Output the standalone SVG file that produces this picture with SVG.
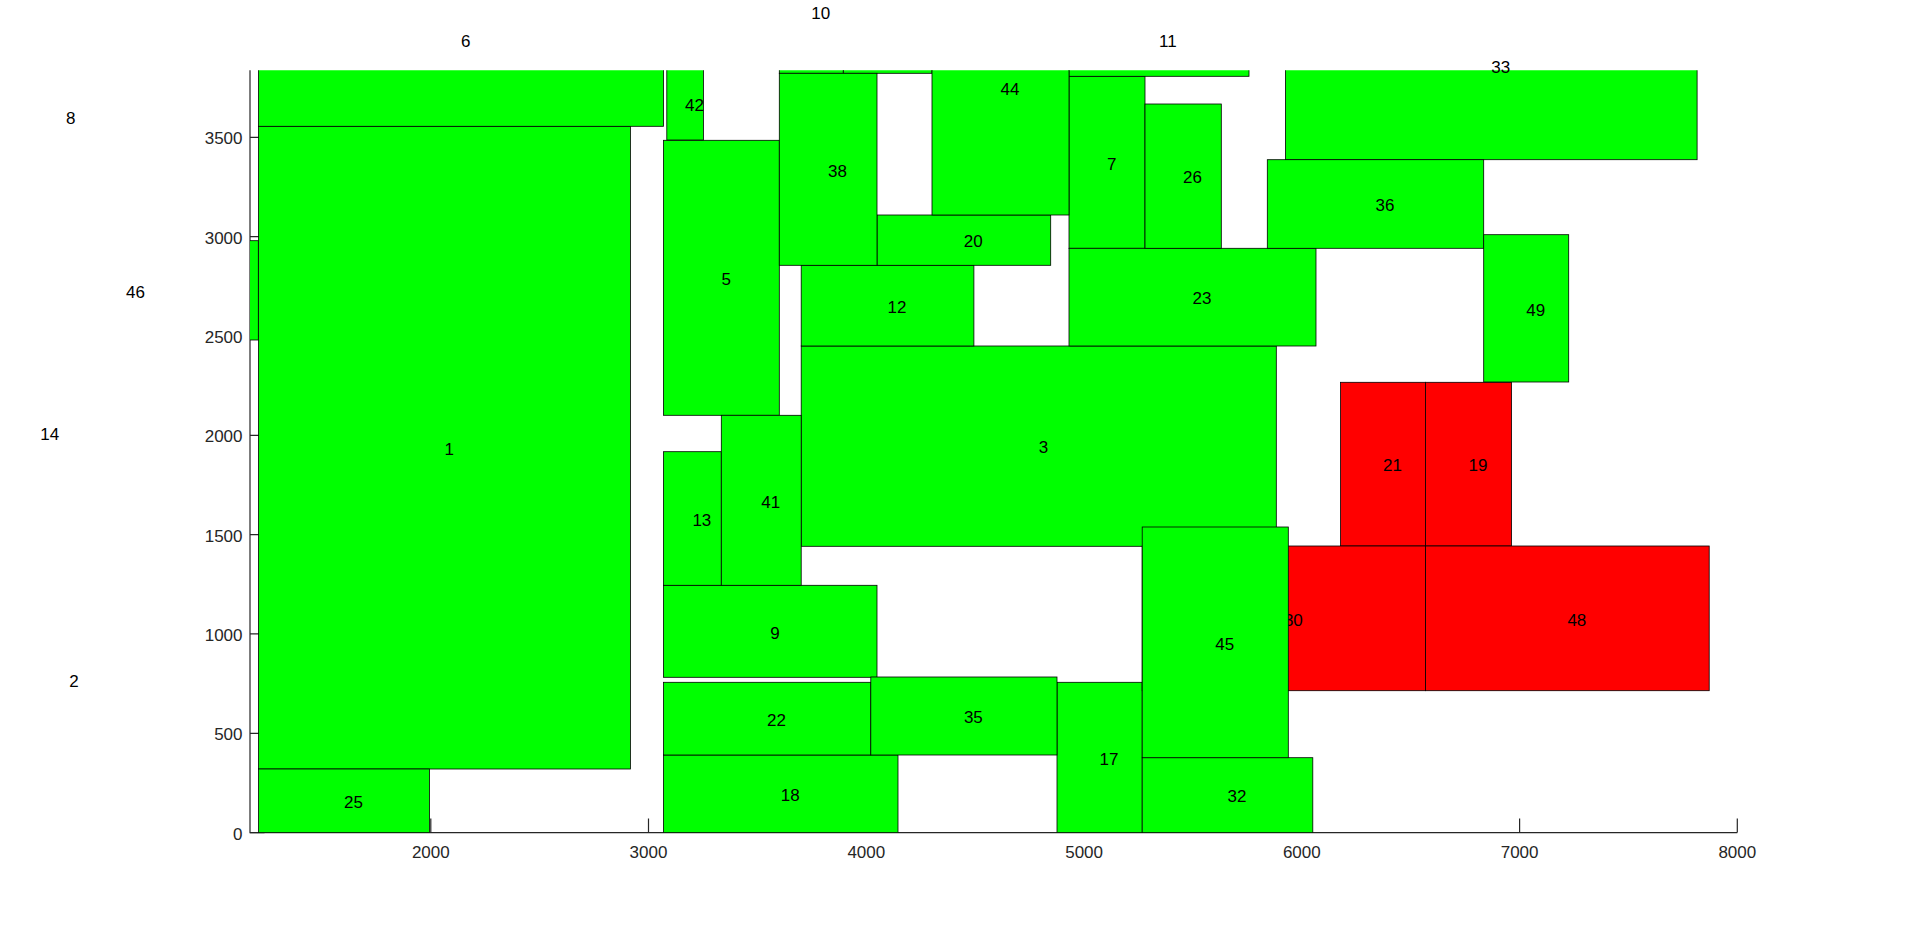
<svg xmlns="http://www.w3.org/2000/svg" width="1920" height="936" viewBox="0 0 1920 936">
<style>
.g{fill:#00ff00;stroke:#000;stroke-width:0.8;clip-path:url(#ax)}
.r{fill:#ff0000;stroke:#000;stroke-width:0.8;clip-path:url(#ax)}
.t{font-family:"Liberation Sans",Arial,sans-serif;font-size:17px;fill:#000}
.tk{font-family:"Liberation Sans",Arial,sans-serif;font-size:17px;fill:#262626}
.ax{stroke:#262626;stroke-width:1.2;fill:none}
</style>
<defs>
<clipPath id="ax"><rect x="250" y="70.2" width="1487.6" height="762.6"/></clipPath>
</defs>
<rect x="0" y="0" width="1920" height="936" fill="#fff"/>
<g id="axes">
<path class="ax" d="M250,70.2V832.6H1737.3"/>
<path class="ax" d="M250,832.6h14.5M250,733.3h14.5M250,633.9h14.5M250,534.6h14.5M250,435.3h14.5M250,335.9h14.5M250,236.6h14.5M250,137.3h14.5"/>
<path class="ax" d="M430.8,832.6v-14M648.5,832.6v-14M866.3,832.6v-14M1084.1,832.6v-14M1301.8,832.6v-14M1519.6,832.6v-14M1737.3,832.6v-14"/>
<g class="tk" text-anchor="end">
<text x="242.5" y="839.6">0</text>
<text x="242.5" y="740.3">500</text>
<text x="242.5" y="640.9">1000</text>
<text x="242.5" y="541.6">1500</text>
<text x="242.5" y="442.3">2000</text>
<text x="242.5" y="342.9">2500</text>
<text x="242.5" y="243.6">3000</text>
<text x="242.5" y="144.3">3500</text>
</g>
<g class="tk" text-anchor="middle">
<text x="430.8" y="858.4">2000</text>
<text x="648.5" y="858.4">3000</text>
<text x="866.3" y="858.4">4000</text>
<text x="1084.1" y="858.4">5000</text>
<text x="1301.8" y="858.4">6000</text>
<text x="1519.6" y="858.4">7000</text>
<text x="1737.3" y="858.4">8000</text>
</g>
</g>
<g id="connectors"/>
<g id="n1"><rect class="g" x="258.5" y="126.3" width="371.9" height="642.7"/><text class="t" x="444.5" y="454.8">1</text></g>
<g id="n2"><text class="t" x="69.2" y="686.6">2</text></g>
<g id="n3"><rect class="g" x="801.2" y="346" width="475.1" height="200.3"/><text class="t" x="1038.7" y="453.4">3</text></g>
<g id="n5"><rect class="g" x="663.5" y="140.3" width="115.8" height="275"/><text class="t" x="721.4" y="285">5</text></g>
<g id="n6"><rect class="g" x="258.5" y="-46.3" width="405" height="172.6"/><text class="t" x="461" y="46.6">6</text></g>
<g id="n7"><rect class="g" x="1069" y="76.3" width="76" height="172"/><text class="t" x="1107" y="169.5">7</text></g>
<g id="n8"><text class="t" x="66" y="124.3">8</text></g>
<g id="n9"><rect class="g" x="663.5" y="585.3" width="213.5" height="92"/><text class="t" x="770.2" y="638.5">9</text></g>
<g id="n10"><rect class="g" x="779.3" y="-46.7" width="64" height="120"/><text class="t" x="811.3" y="19.3">10</text></g>
<g id="n10b"><rect class="g" x="843.3" y="0" width="88.7" height="73.3"/></g>
<g id="n11"><rect class="g" x="1069" y="3.7" width="180" height="72.6"/><text class="t" x="1159" y="46.6">11</text></g>
<g id="n12"><rect class="g" x="801.2" y="265.3" width="172.7" height="80.7"/><text class="t" x="887.5" y="312.9">12</text></g>
<g id="n13"><rect class="g" x="663.5" y="451.7" width="57.8" height="133.6"/><text class="t" x="692.4" y="525.7">13</text></g>
<g id="n14"><text class="t" x="40.2" y="439.9">14</text></g>
<g id="n17"><rect class="g" x="1057" y="682.3" width="85.2" height="150.3"/><text class="t" x="1099.6" y="764.7">17</text></g>
<g id="n18"><rect class="g" x="663.5" y="755" width="234.5" height="77.6"/><text class="t" x="780.7" y="801">18</text></g>
<g id="n19"><rect class="r" x="1425.6" y="382.3" width="85.9" height="163.7"/><text class="t" x="1468.5" y="471.4">19</text></g>
<g id="n20"><rect class="g" x="877" y="215" width="173.7" height="50.3"/><text class="t" x="963.8" y="247.4">20</text></g>
<g id="n21"><rect class="r" x="1340.6" y="382.3" width="85" height="163.7"/><text class="t" x="1383.1" y="471.4">21</text></g>
<g id="n22"><rect class="g" x="663.5" y="682.3" width="207.3" height="72.7"/><text class="t" x="767.1" y="725.9">22</text></g>
<g id="n23"><rect class="g" x="1069" y="248.3" width="247" height="97.7"/><text class="t" x="1192.5" y="304.4">23</text></g>
<g id="n25"><rect class="g" x="258.5" y="769" width="171" height="63.6"/><text class="t" x="344" y="808">25</text></g>
<g id="n26"><rect class="g" x="1145" y="104" width="76.3" height="144.3"/><text class="t" x="1183.1" y="183.4">26</text></g>
<g id="n30"><rect class="r" x="1142.2" y="546" width="283.4" height="144.7"/><text class="t" x="1283.9" y="625.6">30</text></g>
<g id="n32"><rect class="g" x="1142.2" y="757.7" width="170.6" height="74.9"/><text class="t" x="1227.5" y="802.2">32</text></g>
<g id="n33"><rect class="g" x="1285.5" y="-27.7" width="411.6" height="187.4"/><text class="t" x="1491.3" y="72.6">33</text></g>
<g id="n35"><rect class="g" x="870.8" y="677" width="186.2" height="78"/><text class="t" x="963.9" y="723.2">35</text></g>
<g id="n36"><rect class="g" x="1267.3" y="159.7" width="216.4" height="88.6"/><text class="t" x="1375.5" y="211.2">36</text></g>
<g id="n38"><rect class="g" x="779.3" y="73.3" width="97.7" height="192"/><text class="t" x="828.1" y="176.5">38</text></g>
<g id="n41"><rect class="g" x="721.3" y="415.3" width="79.9" height="170"/><text class="t" x="761.2" y="507.5">41</text></g>
<g id="n42"><rect class="g" x="666.8" y="68" width="36.6" height="72"/><text class="t" x="685.1" y="111.2">42</text></g>
<g id="n44"><rect class="g" x="932" y="-40.4" width="137" height="255.4"/><text class="t" x="1000.5" y="94.5">44</text></g>
<g id="n45"><rect class="g" x="1142.2" y="527" width="146.1" height="230.7"/><text class="t" x="1215.2" y="649.5">45</text></g>
<g id="n46"><rect class="g" x="-6" y="240.7" width="264.3" height="99.3"/><text class="t" x="126" y="297.6">46</text></g>
<g id="n48"><rect class="r" x="1425.6" y="546" width="283.6" height="144.7"/><text class="t" x="1567.4" y="625.6">48</text></g>
<g id="n49"><rect class="g" x="1483.7" y="234.7" width="85" height="147.3"/><text class="t" x="1526.2" y="315.6">49</text></g>
</svg>
